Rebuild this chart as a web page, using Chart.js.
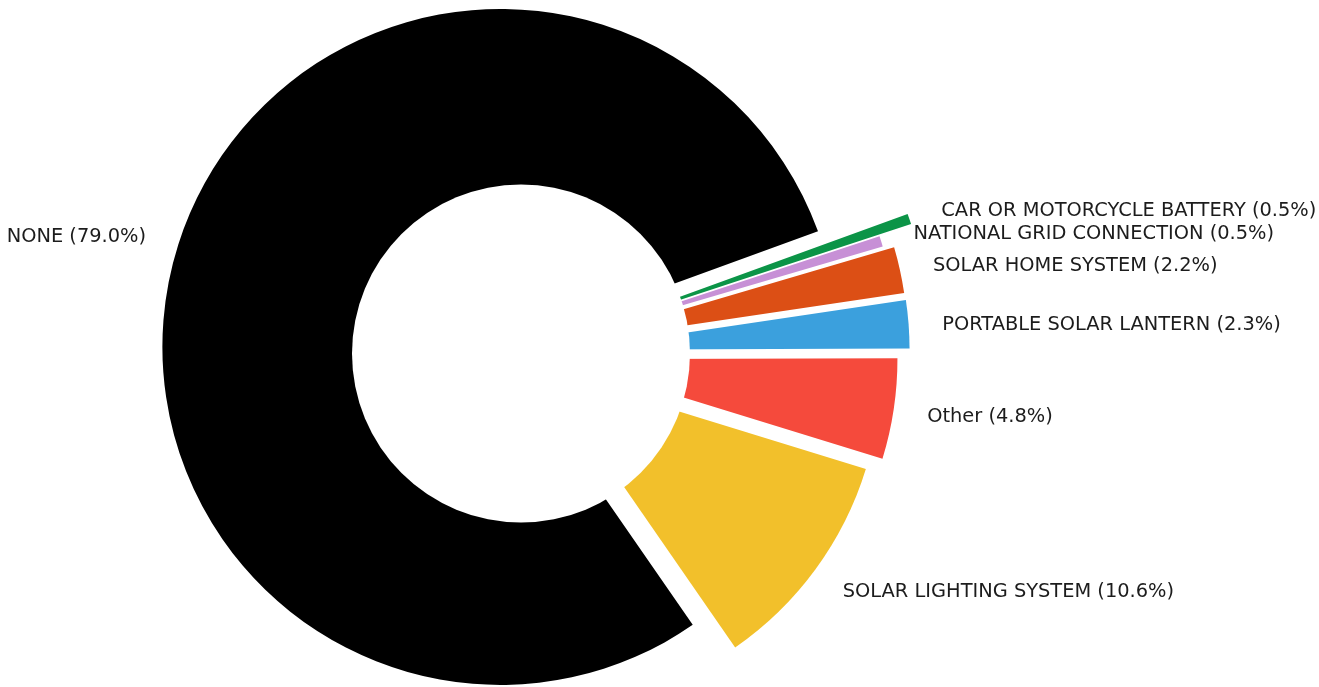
<!DOCTYPE html>
<html>
<head>
<meta charset="utf-8">
<script src="https://cdn.jsdelivr.net/npm/chart.js@4"></script>
<style>
  body { margin: 0; background: #fff; }
  #wrap { width: 1319px; height: 687px; position: relative; }
</style>
</head>
<body>
<div id="wrap"><canvas id="light_chart"></canvas></div>
<script>
// data, in the order the source pie lists it (largest first)
const categories = [
    'NONE',
    'SOLAR LIGHTING SYSTEM',
    'Other',
    'PORTABLE SOLAR LANTERN',
    'SOLAR HOME SYSTEM',
    'NATIONAL GRID CONNECTION',
    'CAR OR MOTORCYCLE BATTERY'
];
const shares = [79.0, 10.6, 4.8, 2.3, 2.2, 0.5, 0.5];

// styling
const sliceColors = ['#000000', '#F2C02B', '#F54A3C', '#3BA0DD', '#DC4F15', '#C790D6', '#0B9447'];
const explode = [0.064, 0.08, 0.115, 0.15, 0.148, 0.116, 0.216]; // fraction of radius
const pieRadius = 338;
const holeRatio = 0.5;

// the original goes counter-clockwise, Chart.js goes clockwise -> reverse
const order = categories.map((_, i) => i).reverse();

// push each slice out along its middle angle (like matplotlib explode)
const explodePlugin = {
    id: 'explode',
    afterDatasetsUpdate(chart) {
        const meta = chart.getDatasetMeta(0);
        meta.data.forEach((arc, i) => {
            const mid = (arc.startAngle + arc.endAngle) / 2;
            const d = explode[order[i]] * arc.outerRadius;
            arc.x += Math.cos(mid) * d;
            arc.y += Math.sin(mid) * d;
        });
    }
};

// white disc over the middle + outside labels
const holeAndLabels = {
    id: 'holeAndLabels',
    afterDatasetsDraw(chart) {
        const ctx = chart.ctx;
        const area = chart.chartArea;
        const cx = (area.left + area.right) / 2;
        const cy = (area.top + area.bottom) / 2;
        const meta = chart.getDatasetMeta(0);
        const R = meta.data[0].outerRadius;

        ctx.save();
        ctx.fillStyle = '#ffffff';
        ctx.beginPath();
        ctx.arc(cx, cy, R * holeRatio, 0, Math.PI * 2);
        ctx.fill();

        ctx.fillStyle = '#1c1c1c';
        ctx.font = '19.4px "DejaVu Sans"';
        ctx.textBaseline = 'middle';
        meta.data.forEach((arc, i) => {
            const k = order[i];
            const mid = (arc.startAngle + arc.endAngle) / 2;
            const tx = arc.x + Math.cos(mid) * R * 1.1;
            const ty = arc.y + Math.sin(mid) * R * 1.1 + 3;
            ctx.textAlign = Math.cos(mid) >= 0 ? 'left' : 'right';
            ctx.fillText(categories[k] + ' (' + shares[k].toFixed(1) + '%)', tx, ty);
        });
        ctx.restore();
    }
};

const ctx = document.getElementById('light_chart').getContext('2d');
const lightChart = new Chart(ctx, {
    type: 'pie',
    data: {
        labels: order.map(i => categories[i]),
        datasets: [{
            data: order.map(i => shares[i]),
            backgroundColor: order.map(i => sliceColors[i]),
            borderWidth: 0
        }]
    },
    options: {
        responsive: true,
        maintainAspectRatio: false,
        animation: false,
        rotation: 70,
        radius: pieRadius,
        layout: {
            padding: { left: 0, right: 277, top: 20, bottom: 0 }
        },
        plugins: {
            legend: { display: false },
            tooltip: { enabled: false }
        }
    },
    plugins: [explodePlugin, holeAndLabels]
});
</script>
</body>
</html>
